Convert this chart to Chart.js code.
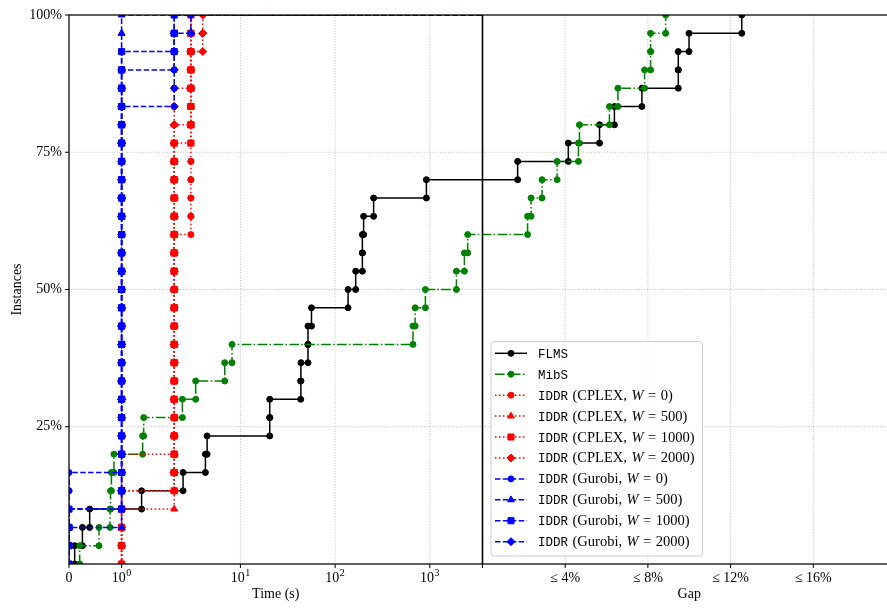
<!DOCTYPE html>
<html>
<head>
<meta charset="utf-8">
<script src="https://cdn.jsdelivr.net/npm/chart.js@4/dist/chart.umd.min.js"></script>
<style>
  html, body { margin: 0; padding: 0; background: #ffffff; overflow: hidden; width: 887px; height: 608px; }
  #wrap { position: relative; width: 896px; height: 608px; }
  #profile { width: 896px; height: 608px; }
</style>
</head>
<body>
<div id="wrap"><canvas id="profile" width="896" height="608"></canvas></div>
<script>
// ---- performance profile data -------------------------------------------
const N_INSTANCES = 30;
const TIME_LIMIT = 3600;      // s, end of the time panel
const GAP_MAX = 20;           // %, end of the gap panel

// solve times (s) of the instances solved within the limit, sorted
const flmsTimes = [0.108, 0.255, 0.393, 1.38, 2.48, 4.27, 4.45, 20.4, 20.4, 43.3, 43.6,
                   51.7, 51.7, 56.3, 137, 165, 194, 194, 200, 255, 920];
// final gaps (%) of the instances not solved within the limit, sorted
const flmsGaps = [1.70, 4.15, 5.66, 6.38, 7.71, 9.47, 9.47, 9.99, 12.54];

const mibsTimes = [0.203, 0.570, 0.78, 0.79, 0.806, 0.855, 1.40, 1.42, 2.44, 3.37, 6.83, 8.15,
                   664, 700, 898, 1910, 2318, 2512];
const mibsGaps = [2.18, 2.35, 2.88, 3.61, 4.64, 4.69, 6.14, 6.55, 7.84, 8.13, 8.13, 8.86];

// IDDR: number of instances solved at each whole second
const iddrSeconds = [0, 1, 2, 3, 4];
const cplexW0    = [0, 6, 12, 12, 0];
const cplexW500  = [0, 3, 21, 6, 0];
const cplexW1000 = [0, 4, 19, 7, 0];
const cplexW2000 = [0, 4, 22, 2, 2];
const gurobiW0    = [5, 20, 5, 0, 0];
const gurobiW500  = [2, 28, 0, 0, 0];
const gurobiW1000 = [3, 25, 2, 0, 0];
const gurobiW2000 = [3, 24, 2, 1, 0];

// axis ticks
const timeTicks = [0, 1, 10, 100, 1000];
const timeTickExp = [null, 0, 1, 2, 3];
const gapTicks = [4, 8, 12, 16];
const yTicks = [25, 50, 75, 100];

// ---- combined axis: symlog time panel [0,1], linear gap panel [1,2] ------
const LIN_THRESH = 2;
const LIN_SCALE = 1 / (1 - 1 / 10);
function symlog(t) {
  return t <= LIN_THRESH ? (t / LIN_THRESH) * LIN_SCALE : LIN_SCALE + Math.log10(t / LIN_THRESH);
}
const TIME_SPAN = symlog(TIME_LIMIT);
const timePos = t => symlog(t) / TIME_SPAN;
const gapPos = g => 1 + g / GAP_MAX;
const pct = k => 100 * k / N_INSTANCES;

// staircase: each instance lifts the curve by one step at its time / gap
function profile(times, gaps) {
  const pts = [];
  let k = 0;
  const step = pos => { pts.push({ x: pos, y: pct(k) }); k++; pts.push({ x: pos, y: pct(k) }); };
  times.forEach(t => step(timePos(t)));
  gaps.forEach(g => step(gapPos(g)));
  return pts;
}
function iddrProfile(counts) {
  const times = [];
  counts.forEach((c, i) => { for (let j = 0; j < c; j++) times.push(iddrSeconds[i]); });
  const pts = profile(times, []);
  pts.push({ x: timePos(TIME_LIMIT), y: pct(times.length), tail: true });
  return pts;
}

const DOT = [1.5, 2.5], DASH = [5.5, 2.4], DASHDOT = [9.6, 2.4, 1.5, 2.4];
const series = [
  { name: 'FLMS', data: profile(flmsTimes, flmsGaps), color: '#000000', dash: [], marker: 'circle' },
  { name: 'MibS', data: profile(mibsTimes, mibsGaps), color: '#008000', dash: DASHDOT, marker: 'circle' },
  { solver: 'CPLEX', w: '0',    data: iddrProfile(cplexW0),    color: '#ff0000', dash: DOT, marker: 'circle' },
  { solver: 'CPLEX', w: '500',  data: iddrProfile(cplexW500),  color: '#ff0000', dash: DOT, marker: 'triangle' },
  { solver: 'CPLEX', w: '1000', data: iddrProfile(cplexW1000), color: '#ff0000', dash: DOT, marker: 'rect' },
  { solver: 'CPLEX', w: '2000', data: iddrProfile(cplexW2000), color: '#ff0000', dash: DOT, marker: 'rectRot' },
  { solver: 'Gurobi', w: '0',    data: iddrProfile(gurobiW0),    color: '#0000ff', dash: DASH, marker: 'circle' },
  { solver: 'Gurobi', w: '500',  data: iddrProfile(gurobiW500),  color: '#0000ff', dash: DASH, marker: 'triangle' },
  { solver: 'Gurobi', w: '1000', data: iddrProfile(gurobiW1000), color: '#0000ff', dash: DASH, marker: 'rect' },
  { solver: 'Gurobi', w: '2000', data: iddrProfile(gurobiW2000), color: '#0000ff', dash: DASH, marker: 'rectRot' }
];
const markerRadius = { circle: 3, triangle: 3.9, rect: 4.3, rectRot: 4 };

// ---- drawing helpers -------------------------------------------------------
const SERIF = '"Liberation Serif", "DejaVu Serif", serif';
const FONT = '14px ' + SERIF;
const SUP_FONT = '10px ' + SERIF;
const LEG_FONT = '14.5px ' + SERIF;
const LEG_ITALIC = 'italic 14.5px ' + SERIF;
const MONO = '12.5px "Liberation Mono", "DejaVu Sans Mono", monospace';

function seg(ctx, x1, y1, x2, y2) { ctx.beginPath(); ctx.moveTo(x1, y1); ctx.lineTo(x2, y2); ctx.stroke(); }

function marker(ctx, style, x, y, color) {
  const r = markerRadius[style];
  ctx.save();
  ctx.setLineDash([]);
  ctx.fillStyle = color; ctx.strokeStyle = color; ctx.lineWidth = 1;
  ctx.beginPath();
  if (style === 'circle') ctx.arc(x, y, r, 0, Math.PI * 2);
  else if (style === 'triangle') {
    for (let i = 0; i < 3; i++) {
      const a = i * 2 * Math.PI / 3;
      const px = x + Math.sin(a) * r, py = y - Math.cos(a) * r;
      i ? ctx.lineTo(px, py) : ctx.moveTo(px, py);
    }
    ctx.closePath();
  } else if (style === 'rect') { const s = r * Math.SQRT1_2; ctx.rect(x - s, y - s, 2 * s, 2 * s); }
  else { ctx.moveTo(x, y - r); ctx.lineTo(x + r, y); ctx.lineTo(x, y + r); ctx.lineTo(x - r, y); ctx.closePath(); }
  ctx.fill(); ctx.stroke();
  ctx.restore();
}

// text runs: [font, text, extra space after]
function richText(ctx, x, y, parts) {
  ctx.textAlign = 'left';
  parts.forEach(([font, text, pad]) => {
    ctx.font = font; ctx.fillText(text, x, y);
    x += ctx.measureText(text).width + (pad || 0);
  });
}

const panelAxes = {
  id: 'panelAxes',
  beforeDatasetsDraw(chart) {
    const { ctx, chartArea: a, scales: { x, y } } = chart;
    ctx.save();
    ctx.strokeStyle = '#a9a9a9'; ctx.lineWidth = 0.8; ctx.setLineDash([1, 1.65]);
    timeTicks.filter(t => t > 0).forEach(t => { const px = x.getPixelForValue(timePos(t)); seg(ctx, px, a.top, px, a.bottom); });
    gapTicks.forEach(g => { const px = x.getPixelForValue(gapPos(g)); seg(ctx, px, a.top, px, a.bottom); });
    yTicks.filter(v => v < 100).forEach(v => { const py = y.getPixelForValue(v); seg(ctx, a.left, py, a.right, py); });
    ctx.restore();
  },
  afterDatasetsDraw(chart) {
    const { ctx, chartArea: a, scales: { x, y } } = chart;
    ctx.save();
    // frame of both panels and the divider at the time limit
    ctx.strokeStyle = '#000000'; ctx.lineWidth = 1.25; ctx.setLineDash([]);
    ctx.strokeRect(a.left, a.top, a.right - a.left, a.bottom - a.top);
    const divX = x.getPixelForValue(timePos(TIME_LIMIT));
    ctx.lineWidth = 1.6;
    seg(ctx, divX, a.top, divX, a.bottom);

    // tick marks
    ctx.lineWidth = 1;
    const xTickPx = [...timeTicks.map(t => x.getPixelForValue(timePos(t))), divX,
                     ...gapTicks.map(g => x.getPixelForValue(gapPos(g)))];
    xTickPx.forEach(px => seg(ctx, px, a.bottom, px, a.bottom + 4));
    yTicks.forEach(v => { const py = y.getPixelForValue(v); seg(ctx, a.left - 4, py, a.left, py); });

    // tick labels
    ctx.fillStyle = '#000000';
    const base = a.bottom + 17.5;
    timeTicks.forEach((t, i) => {
      const cx = x.getPixelForValue(timePos(t));
      if (timeTickExp[i] === null) {
        ctx.font = FONT; ctx.textAlign = 'center'; ctx.fillText(String(t), cx, base);
      } else {
        const e = String(timeTickExp[i]);
        ctx.font = FONT; const w1 = ctx.measureText('10').width;
        ctx.font = SUP_FONT; const w2 = ctx.measureText(e).width;
        const x0 = cx - (w1 + w2 + 0.5) / 2;
        ctx.textAlign = 'left';
        ctx.font = FONT; ctx.fillText('10', x0, base);
        ctx.font = SUP_FONT; ctx.fillText(e, x0 + w1 + 0.5, base - 6);
      }
    });
    ctx.font = FONT; ctx.textAlign = 'center';
    gapTicks.forEach(g => ctx.fillText('\u2264 ' + g + '%', x.getPixelForValue(gapPos(g)), base));
    ctx.textAlign = 'right'; ctx.textBaseline = 'middle';
    yTicks.forEach(v => ctx.fillText(v + '%', a.left - 7, y.getPixelForValue(v)));
    ctx.textBaseline = 'alphabetic';

    // axis titles
    ctx.textAlign = 'center';
    ctx.fillText('Time (s)', (a.left + divX) / 2, a.bottom + 33.5);
    ctx.fillText('Gap', (divX + a.right) / 2, a.bottom + 33.5);
    ctx.save();
    ctx.translate(17, (a.top + a.bottom) / 2);
    ctx.rotate(-Math.PI / 2);
    ctx.textBaseline = 'middle';
    ctx.fillText('Instances', 0, 0);
    ctx.restore();

    // legend
    const bx = 491, by = 341.5, bw = 211.5, bh = 214.5;
    ctx.beginPath();
    ctx.roundRect(bx, by, bw, bh, 3);
    ctx.fillStyle = 'rgba(255,255,255,0.85)'; ctx.fill();
    ctx.strokeStyle = '#cccccc'; ctx.lineWidth = 1; ctx.stroke();
    series.forEach((s, i) => {
      const ry = 353.3 + i * 20.93;
      ctx.strokeStyle = s.color; ctx.lineWidth = 1.5; ctx.setLineDash(s.dash);
      seg(ctx, 495, ry, 527, ry);
      marker(ctx, s.marker, 511, ry, s.color);
      ctx.fillStyle = '#000000';
      if (s.name) richText(ctx, 538, ry + 4.5, [[MONO, s.name]]);
      else richText(ctx, 538, ry + 4.5, [[MONO, 'IDDR', 4.5], [LEG_FONT, '(' + s.solver + ',', 4.5],
                                          [LEG_ITALIC, 'W', 4.5], [LEG_FONT, '=', 4.5], [LEG_FONT, s.w + ')']]);
    });
    ctx.restore();
  }
};

new Chart(document.getElementById('profile'), {
  type: 'line',
  data: {
    datasets: series.map((s, i) => ({
      label: s.name || ('IDDR (' + s.solver + ', W = ' + s.w + ')'),
      data: s.data,
      borderColor: s.color,
      backgroundColor: s.color,
      borderWidth: 1.5,
      borderDash: s.dash,
      pointStyle: s.marker,
      pointRadius: c => (c.raw && c.raw.tail) ? 0 : markerRadius[s.marker],
      pointBorderWidth: 1,
      pointBackgroundColor: s.color,
      pointBorderColor: s.color,
      fill: false,
      tension: 0,
      order: -i
    }))
  },
  options: {
    responsive: false,
    animation: false,
    events: [],
    layout: { autoPadding: false, padding: { left: 69, top: 15, right: 0, bottom: 44 } },
    plugins: { legend: { display: false }, tooltip: { enabled: false } },
    scales: {
      x: { type: 'linear', min: 0, max: 2, display: false },
      y: { type: 'linear', min: 0, max: 100, display: false }
    }
  },
  plugins: [panelAxes]
});
</script>
</body>
</html>
